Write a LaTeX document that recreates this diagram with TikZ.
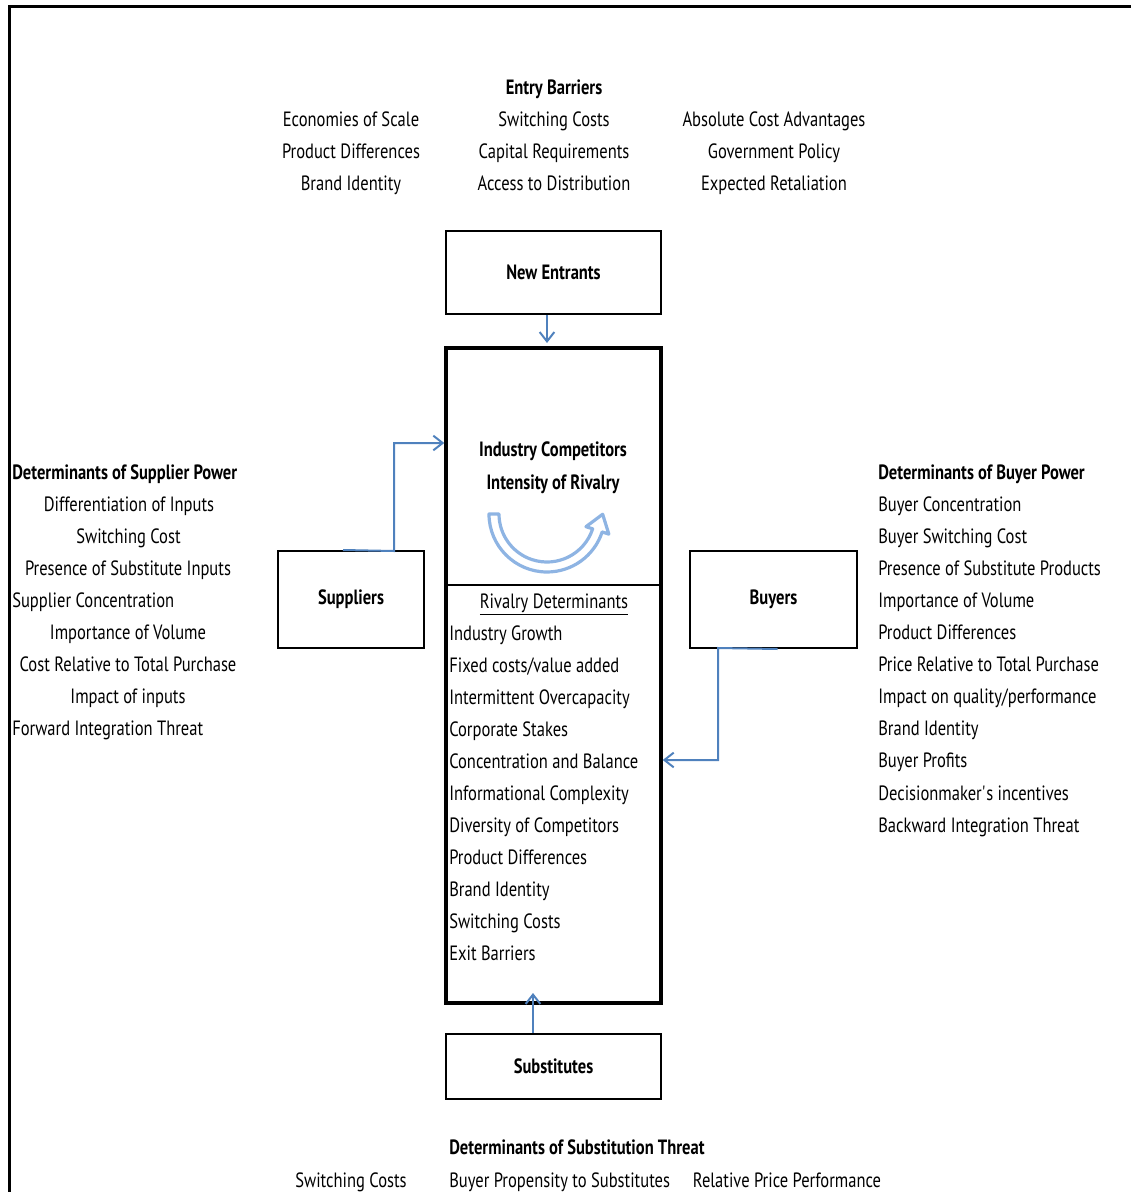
\documentclass[tikz,border=0pt]{standalone}
\usepackage{fontspec}
\setmainfont{PT Sans}[FakeStretch=0.8]
\usetikzlibrary{arrows.meta,calc}
\definecolor{conn}{RGB}{79,129,189}
\definecolor{lightarc}{RGB}{142,180,227}
\begin{document}
\begin{tikzpicture}[x=0.75pt,y=-0.75pt,
  every node/.style={font=\fontsize{15.5}{18}\selectfont, inner sep=0pt},
  txt/.style={anchor=base},
  ltxt/.style={anchor=base west},
  hd/.style={font=\fontsize{15.5}{18}\selectfont\bfseries},
  box/.style={draw, line width=1.5pt, font=\fontsize{15.5}{18}\selectfont\bfseries},
  conn/.style={draw=conn, line width=1.5pt, -{Straight Barb[length=7pt,width=11pt]}}]
\useasboundingbox (0,0) rectangle (1131,1192);
% outer frame
\draw[line width=2.25pt] (9,1192) -- (9,6) -- (1131,6);
% entry barriers
\node[txt,hd] (eb) at (554,94) {Entry Barriers};
\node[txt] (e1) at (351,126) {Economies of Scale};
\node[txt] (e2) at (351,158) {Product Differences};
\node[txt] (e3) at (351,190) {Brand Identity};
\node[txt] (e4) at (554,126) {Switching Costs};
\node[txt] (e5) at (554,158) {Capital Requirements};
\node[txt] (e6) at (554,190) {Access to Distribution};
\node[txt] (e7) at (774,126) {Absolute Cost Advantages};
\node[txt] (e8) at (774,158) {Government Policy};
\node[txt] (e9) at (774,190) {Expected Retaliation};
% boxes
\node[box, minimum width=161.25pt, minimum height=62.25pt] (ne) at (553.5,272.5) {New Entrants};
\node[box, minimum width=109.5pt, minimum height=72.75pt] (sup) at (351,599.5) {Suppliers};
\node[box, minimum width=125.25pt, minimum height=72.75pt] (buy) at (773.5,599.5) {Buyers};
\node[box, minimum width=161.25pt, minimum height=48.75pt] (sub) at (553.5,1066.5) {Substitutes};
\node[draw, line width=2.6pt, minimum width=161.25pt, minimum height=491.25pt] (ic) at (553.5,675.5) {};
\draw[line width=1.6pt] (ic.west |- 0,585) -- (ic.east |- 0,585);
% center texts
\node[txt,hd] (ic1) at (553,456) {Industry Competitors};
\node[txt,hd] (ic2) at (553,489) {Intensity of Rivalry};
\node[txt] (rd) at (554,608) {\underline{Rivalry Determinants}};
\foreach \t [count=\i] in {Industry Growth, Fixed costs/value added, Intermittent Overcapacity, Corporate Stakes, Concentration and Balance, Informational Complexity, Diversity of Competitors, Product Differences, Brand Identity, Switching Costs, Exit Barriers}
  \node[ltxt] (r\i) at (449,608+32*\i) {\t};
% rivalry curved arrow
\coordinate (cc) at (547,514);
\draw[draw=lightarc, line width=2.4pt, fill=white, line join=round]
  ($(cc)+(180:58)$) arc[start angle=180, end angle=18, radius=58]
  -- ($(cc)+(18:65)$) -- ($(cc)+(18:53)+(0.309*17,-0.951*17)$) -- ($(cc)+(18:41)$) -- ($(cc)+(18:48)$)
  arc[start angle=18, end angle=180, radius=48] -- cycle;
% supplier power
\node[ltxt,hd] (sp) at (12,479) {Determinants of Supplier Power};
\node[txt] (s1) at (129,511) {Differentiation of Inputs};
\node[txt] (s2) at (128.5,543) {Switching Cost};
\node[txt] (s3) at (128,575) {Presence of Substitute Inputs};
\node[ltxt] (s4) at (12,607) {Supplier Concentration};
\node[txt] (s5) at (128,639) {Importance of Volume};
\node[txt] (s6) at (128,671) {Cost Relative to Total Purchase};
\node[txt] (s7) at (128,703) {Impact of inputs};
\node[ltxt] (s8) at (12,735) {Forward Integration Threat};
% buyer power
\node[ltxt,hd] (bp) at (878,479) {Determinants of Buyer Power};
\foreach \t [count=\i] in {Buyer Concentration, Buyer Switching Cost, Presence of Substitute Products, Importance of Volume, Product Differences, Price Relative to Total Purchase, Impact on quality/performance, Brand Identity, Buyer Profits, Decisionmaker\textquotesingle s incentives, Backward Integration Threat}
  \node[ltxt] (b\i) at (878,479+32.1*\i) {\t};
% substitution
\node[ltxt,hd] (st) at (449,1154) {Determinants of Substitution Threat};
\node[txt] (t1) at (351,1187) {Switching Costs};
\node[ltxt] (t2) at (449,1187) {Buyer Propensity to Substitutes};
\node[txt] (t3) at (787,1187) {Relative Price Performance};
% connectors
\draw[conn] (ne.south -| 547,0) -- (547,343);
\draw[conn] ([xshift=-6pt]sup.north) -- (394,551) -- (394,443) -- (ic.west |- 0,443);
\draw[conn] ([xshift=3pt]buy.south) -- (718,648) -- (718,760) -- (ic.east |- 0,760);
\draw[conn] (sub.north -| 533,0) -- (533,993);
\end{tikzpicture}
\end{document}
